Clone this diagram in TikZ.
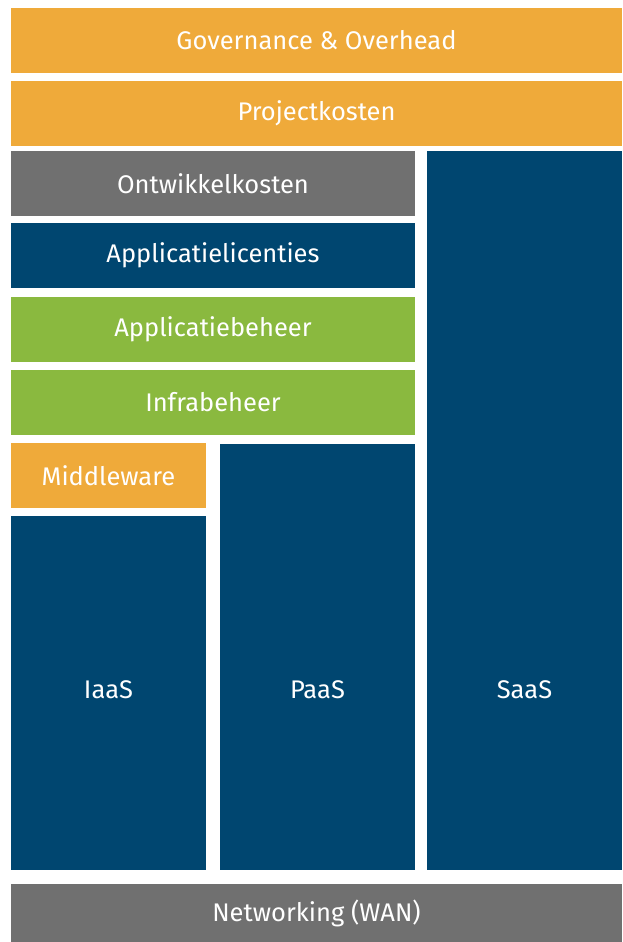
\documentclass[tikz,border=0pt]{standalone}
\usepackage{fontspec}
\setmainfont{Fira Sans}
\definecolor{cOrange}{HTML}{EFAA3A}
\definecolor{cNavy}{HTML}{004670}
\definecolor{cGray}{HTML}{707070}
\definecolor{cGreen}{HTML}{8AB93F}
\begin{document}
\begin{tikzpicture}[x=1pt,y=-1pt,
  blk/.style={rectangle, inner sep=0pt, outer sep=0pt, draw=none, text=white,
    font=\fontsize{25.5}{30}\selectfont},
  lbl/.style={inner sep=0pt, text=white, font=\fontsize{25.5}{30}\selectfont}]
\useasboundingbox (0,0) rectangle (622,942);
\fill[white] (0,0) rectangle (622,942);
% full-width rows
\node[blk, fill=cOrange, minimum width=611pt, minimum height=65pt] (gov) at (316.5,40.5) {Governance \& Overhead};
\node[blk, fill=cOrange, minimum width=611pt, minimum height=65pt] (proj) at (316.5,113.5) {Projectkosten};
% left stack
\node[blk, fill=cGray, minimum width=404pt, minimum height=65pt] (ontw) at (213,183.5) {Ontwikkelkosten};
\node[blk, fill=cNavy, minimum width=404pt, minimum height=65pt] (lic) at (213,255.5) {Applicatielicenties};
\node[blk, fill=cGreen, minimum width=404pt, minimum height=65pt] (appb) at (213,329.5) {Applicatiebeheer};
\node[blk, fill=cGreen, minimum width=404pt, minimum height=65pt] (infra) at (213,402.5) {Infrabeheer};
\node[blk, fill=cOrange, minimum width=195pt, minimum height=65pt] (mid) at (108.5,475.5) {Middleware};
% columns
\node[blk, fill=cNavy, minimum width=195pt, minimum height=354pt] (iaas) at (108.5,693) {};
\node[blk, fill=cNavy, minimum width=195pt, minimum height=426pt] (paas) at (317.5,657) {};
\node[blk, fill=cNavy, minimum width=195pt, minimum height=719pt] (saas) at (524.5,510.5) {};
\node[lbl] (iaasT) at (108.5,690) {IaaS};
\node[lbl] (paasT) at (317.5,690) {PaaS};
\node[lbl] (saasT) at (524.5,690) {SaaS};
% bottom
\node[blk, fill=cGray, minimum width=611pt, minimum height=59pt] (wan) at (316.5,913.5) {Networking (WAN)};
\end{tikzpicture}
\end{document}
